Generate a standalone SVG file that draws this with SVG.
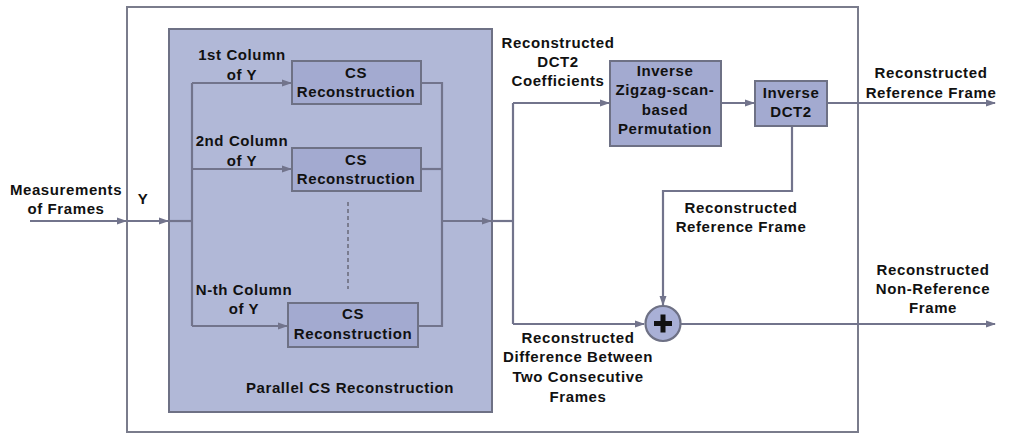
<svg xmlns="http://www.w3.org/2000/svg" width="1011" height="433" viewBox="0 0 1011 433">
<defs>
<marker id="ah" markerWidth="10" markerHeight="8" refX="9" refY="4" orient="auto" markerUnits="userSpaceOnUse">
<path d="M0,0.5 L10,4 L0,7.5 Z" fill="#72748c"/>
</marker>
<style>
.t{font-family:"Liberation Sans",Arial,sans-serif;font-weight:bold;font-size:15px;letter-spacing:0.6px;fill:#111;text-anchor:middle}
.ln{fill:none;stroke:#72748c;stroke-width:2.2}
.box{fill:#a3aad0;stroke:#6e7185;stroke-width:2}
</style>
</defs>
<rect width="1011" height="433" fill="#fff"/>
<g id="frame"><rect x="127" y="7" width="731" height="425" fill="none" stroke="#7a7c8c" stroke-width="2"/></g>
<g id="panel">
<rect x="169" y="29" width="323" height="383" fill="#b1b8d7" stroke="#6e7185" stroke-width="2"/>
<text class="t" x="350" y="393">Parallel CS Reconstruction</text>
</g>
<g id="connectors">
<path class="ln" d="M30,221 H126" marker-end="url(#ah)"/>
<path class="ln" d="M127,221 H168" marker-end="url(#ah)"/>
<path class="ln" d="M169,221 H192"/>
<path class="ln" d="M192,83 V326"/>
<path class="ln" d="M192,83 H291" marker-end="url(#ah)"/>
<path class="ln" d="M192,169 H291" marker-end="url(#ah)"/>
<path class="ln" d="M192,326 H287" marker-end="url(#ah)"/>
<path class="ln" d="M421,83 H442 V326 H418"/>
<path class="ln" d="M421,169 H442"/>
<path class="ln" d="M442,221 H491" marker-end="url(#ah)"/>
<path class="ln" d="M492,221 H513"/>
<path class="ln" d="M513,103 V324"/>
<path class="ln" d="M513,103 H609" marker-end="url(#ah)"/>
<path class="ln" d="M513,324 H644" marker-end="url(#ah)"/>
<path class="ln" d="M721,103 H754" marker-end="url(#ah)"/>
<path class="ln" d="M827,103 H995" marker-end="url(#ah)"/>
<path class="ln" d="M792,126 V191 H663 V305" marker-end="url(#ah)"/>
<path class="ln" d="M681,324 H995" marker-end="url(#ah)"/>
<path d="M348,202 V289" stroke="#7a7c90" stroke-width="2" stroke-dasharray="4,3" fill="none"/>
</g>
<g id="cs1">
<rect class="box" x="292" y="61" width="129" height="43"/>
<text class="t" x="356" y="78">CS</text>
<text class="t" x="356" y="97">Reconstruction</text>
</g>
<g id="cs2">
<rect class="box" x="292" y="148" width="129" height="43"/>
<text class="t" x="356" y="165">CS</text>
<text class="t" x="356" y="184">Reconstruction</text>
</g>
<g id="cs3">
<rect class="box" x="288" y="303" width="130" height="44"/>
<text class="t" x="353" y="319">CS</text>
<text class="t" x="353" y="339">Reconstruction</text>
</g>
<g id="zigzag">
<rect class="box" x="610" y="61" width="111" height="85"/>
<text class="t" x="665" y="76">Inverse</text>
<text class="t" x="665" y="95">Zigzag-scan-</text>
<text class="t" x="665" y="115">based</text>
<text class="t" x="665" y="134">Permutation</text>
</g>
<g id="idct">
<rect class="box" x="755" y="81" width="72" height="45"/>
<text class="t" x="791" y="98">Inverse</text>
<text class="t" x="791" y="117">DCT2</text>
</g>
<g id="adder">
<circle cx="663" cy="323.5" r="17.5" fill="#a9b0d6" stroke="#6e7185" stroke-width="2.2"/>
<path d="M660.5,314.5 h5 v6.5 h6.5 v5 h-6.5 v6.5 h-5 v-6.5 h-6.5 v-5 h6.5 z" fill="#111"/>
</g>
<g id="labels">
<text class="t" x="66" y="195">Measurements</text>
<text class="t" x="66" y="214">of Frames</text>
<text class="t" x="143" y="204">Y</text>
<text class="t" x="242" y="60">1st Column</text>
<text class="t" x="242" y="80">of Y</text>
<text class="t" x="242" y="146">2nd Column</text>
<text class="t" x="242" y="166">of Y</text>
<text class="t" x="244" y="295">N-th Column</text>
<text class="t" x="244" y="314">of Y</text>
<text class="t" x="558" y="48">Reconstructed</text>
<text class="t" x="558" y="67">DCT2</text>
<text class="t" x="558" y="86">Coefficients</text>
<text class="t" x="931" y="78">Reconstructed</text>
<text class="t" x="931" y="98">Reference Frame</text>
<text class="t" x="741" y="213">Reconstructed</text>
<text class="t" x="741" y="232">Reference Frame</text>
<text class="t" x="933" y="275">Reconstructed</text>
<text class="t" x="933" y="294">Non-Reference</text>
<text class="t" x="933" y="313">Frame</text>
<text class="t" x="578" y="343">Reconstructed</text>
<text class="t" x="578" y="362">Difference Between</text>
<text class="t" x="578" y="382">Two Consecutive</text>
<text class="t" x="578" y="402">Frames</text>
</g>
</svg>
